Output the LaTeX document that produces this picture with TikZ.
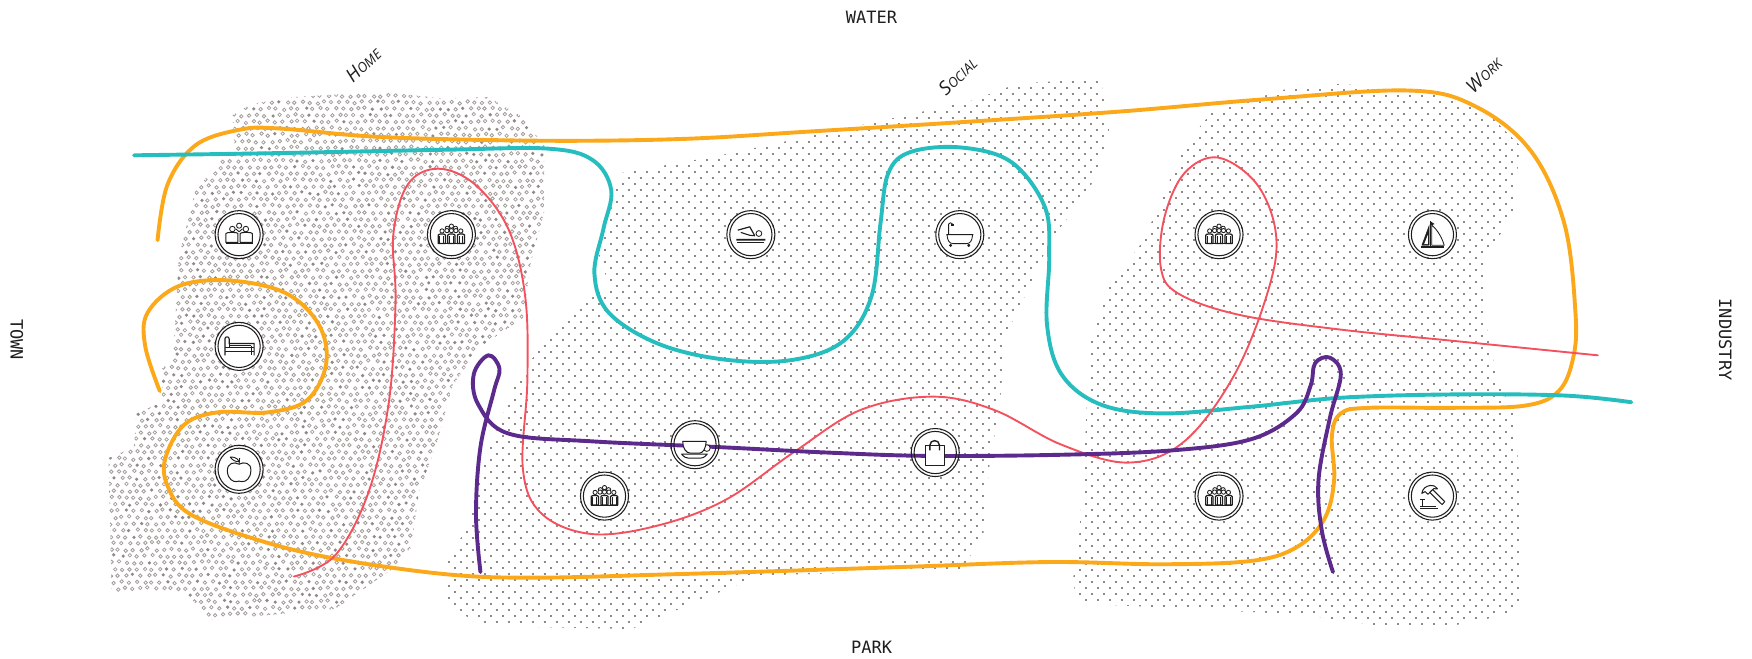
\documentclass[tikz,border=0pt]{standalone}
\usepackage{fontspec}
\setmainfont{DejaVu Sans Mono}
\newfontfamily\zonefont{Open Sans}[ItalicFont=* Italic]
\definecolor{cOrange}{HTML}{FBA91A}
\definecolor{cTeal}{HTML}{25BDBD}
\definecolor{cRed}{HTML}{F4515F}
\definecolor{cPurple}{HTML}{5B2A8C}
\definecolor{cDot}{HTML}{8F8A87}
\definecolor{cRing}{HTML}{A39E9A}
\definecolor{cInk}{HTML}{1E1E1E}
\tikzset{
  route/.style={line width=#1,line cap=round,line join=round},
  disk/.style={circle,fill=white,inner sep=0pt,minimum size=46pt},
  ringline/.style={draw=cInk,line width=1.05pt},
  ic/.style={draw=cInk,line width=0.85pt,line join=round,fill=white},
  icb/.style={draw=cInk,fill=cInk,line width=0.3pt},
  axislabel/.style={font=\fontsize{17}{17}\selectfont,text=cInk},
  zonelabel/.style={font=\zonefont\itshape,text=cInk,rotate=44},
  pics/crowd/.style={code={
    \foreach \a/\b in {0/-7.6,-3.7/-5.7,3.7/-5.7}{\draw[ic] (\a,\b) circle (1.9);}
    \foreach \a/\b in {-8.4/-3.3,8.4/-3.3,-4/-3.6,4/-3.6,0/-3.6}{\draw[ic] (\a,\b) circle (1.9);}
    \foreach \a in {-8.6,8.6,0}{
      \draw[ic,line width=1.25pt] (\a-3.2,8) -- (\a-3.2,0.4) .. controls (\a-3.2,-1) and (\a+3.2,-1) .. (\a+3.2,0.4) -- (\a+3.2,8) -- cycle;
      \draw[cInk,line width=1pt] (\a-1.7,1) -- (\a-1.7,8) (\a+1.7,1) -- (\a+1.7,8);}
    \draw[cInk,line width=1pt] (-12,8.2) -- (12,8.2);
  }},
  pics/family/.style={code={
    \draw[ic] (0,-8) circle (2.3);
    \draw[ic] (-6,-5) circle (2.5) (6,-5) circle (2.5);
    \draw[ic] (-3,-5.2) -- (0,-2.6) -- (3,-5.2);
    \foreach \a in {-6.4,6.4}{
      \draw[ic,line width=1pt] (\a-5.4,7) -- (\a-5.4,-1) .. controls (\a-5.4,-2.4) and (\a+5.4,-2.4) .. (\a+5.4,-1) -- (\a+5.4,7) -- cycle;}
    \draw[cInk,line width=1pt] (-12,7.6) -- (12,7.6);
  }},
  pics/bed/.style={code={
    \draw[cInk,line width=1.1pt] (-12.6,8) -- (-12.6,-7) .. controls (-12.6,-9) and (-9,-9) .. (-9,-7) -- (-9,-2.6) -- (13.4,-2.6) -- (13.4,8);
    \draw[cInk,line width=1.1pt] (-9,-7) -- (-9,1) (-12.6,1.2) -- (13.4,1.2) (-12.6,4.2) -- (13.4,4.2) (10.8,-0.6) -- (10.8,8);
    \draw[cInk,line width=0.8pt] (-8.4,-0.6) -- (11,-0.6);
  }},
  pics/apple/.style={code={
    \draw[ic,line width=1pt] (0,-4.5) .. controls (-4,-7) and (-11,-6) .. (-10.5,2) .. controls (-10,9) and (-5,11.5) .. (-2.5,11) .. controls (-1,10.5) and (1,10.5) .. (2.5,11) .. controls (6,11.5) and (10.5,8) .. (10.5,1) .. controls (11,-6) and (4,-7) .. (0,-4.5) -- cycle;
    \draw[cInk,line width=1pt] (0,-4.5) -- (0.4,-10);
    \draw[ic,line width=0.9pt] (0,-7) .. controls (-2,-11) and (-6,-11) .. (-8,-11) .. controls (-6,-8) and (-3,-6.5) .. (0,-7) -- cycle;
  }},
  pics/swim/.style={code={
    \draw[ic] (7.2,-1) circle (2.6);
    \draw[cInk,line width=1.2pt,line join=round] (-11.7,-4) -- (-1,-7) -- (3.5,1);
    \draw[cInk,line width=1.1pt] (-9,-2) -- (-1,0.6) -- (3.5,1);
    \draw[cInk,line width=1.6pt,fill=none] (-13,4.6) \foreach \i in {0,...,6}{ .. controls (-12+\i*3.7,3) and (-11+\i*3.7,6) .. (-9.3+\i*3.7,4.6)};
    \draw[cInk,line width=1.4pt] (-12.5,7) -- (12,7);
  }},
  pics/bath/.style={code={
    \draw[ic] (-10,0) -- (-10,-9.5) .. controls (-10,-11) and (-6.5,-11) .. (-6.5,-9.5);
    \fill[cInk] (-7.7,-9.5) rectangle (-5.2,-7.8);
    \draw[ic] (-12,0) -- (12.2,0) (-11.5,0) .. controls (-11,6) and (-9,8) .. (-6,8) -- (6,8) .. controls (9,8) and (11,6) .. (11.5,0);
    \draw[ic,fill=cInk] (-8.2,9.6) circle (1) (8,9.6) circle (1);
  }},
  pics/boat/.style={code={
    \draw[cInk,line width=1.1pt] (-2,-12) -- (-2,10);
    \fill[cInk] (-2,-12) -- (2,-9.5) -- (-2,-8) -- cycle;
    \draw[ic] (-0.6,-8.5) .. controls (5,-4) and (9,4) .. (10.5,9.5) -- (-0.6,9.5) -- cycle;
    \filldraw[cInk] (-3,-8) -- (-9.5,9.5) -- (-3,9.5) -- cycle;
    \fill[white] (-4,0) -- (-7.4,8.5) -- (-4,8.5) -- cycle;
    \draw[cInk,line width=1.7pt] (-10.5,11.2) -- (10.5,11.2);
  }},
  pics/hammer/.style={code={
    \draw[ic,line width=1pt] (-2.5,-3.4) -- (0,-6) -- (11,5) -- (8.6,7.6) -- cycle;
    \draw[ic,line width=1pt] (-9.5,-2.4) .. controls (-9,-6.5) and (-6,-9) .. (-2,-9.5) .. controls (1,-9.8) and (3.5,-8.5) .. (4.5,-6.5) .. controls (2,-7.4) and (0,-6.5) .. (-1,-4.8) -- (-4,-1.6) -- (-6.6,-4) .. controls (-7.8,-3.4) and (-8.8,-3) .. (-9.5,-2.4) -- cycle;
    \draw[cInk,line width=1pt] (-9,3) -- (-9,9) (-11,3) -- (-7,3);
    \draw[cInk,line width=1pt] (-11,9) -- (3,9) (-11,11) -- (5,11);
  }},
  pics/cup/.style={code={
    \draw[ic] (10.6,3) circle (3);
    \draw[ic,line width=1pt] (-11,-3) -- (10,-3) .. controls (10,3) and (7,7.6) .. (4,7.6) -- (-4,7.6) .. controls (-8,7.6) and (-11,3) .. (-11,-3) -- cycle;
    \draw[ic,line width=1pt] (-12,8.4) -- (11,8.4) .. controls (8,12) and (6,12) .. (5,12) -- (-6,12) .. controls (-8,12) and (-10,11) .. (-12,8.4) -- cycle;
  }},
  pics/bag/.style={code={
    \draw[ic,line width=1.1pt] (-9,-6) rectangle (8,12);
    \draw[cInk,line width=1.4pt] (-4.8,-2) -- (-4.8,-6.5) .. controls (-4.8,-12) and (3.8,-12) .. (3.8,-6.5) -- (3.8,-2);
  }},
}
\newcommand{\homezone}{(208,103) -- (225,93) -- (262,87) -- (340,82) -- (395,88) -- (437,87) -- (465,103) -- (487,130) -- (487,190) -- (475,235) -- (468,285) -- (430,310) -- (405,345) -- (390,400) -- (375,440) -- (368,490) -- (350,510) -- (300,545) -- (190,555) -- (165,530) -- (100,530) -- (97,410) -- (120,400) -- (122,370) -- (145,360) -- (145,330) -- (155,320) -- (160,230) -- (175,170) -- (210,130) -- cycle}
\newcommand{\socialzone}{(400,500) -- (420,470) -- (430,420) -- (465,335) -- (505,285) -- (545,255) -- (535,225) -- (555,155) -- (640,140) -- (780,110) -- (870,90) -- (910,75) -- (985,70) -- (993,120) -- (975,170) -- (940,215) -- (915,270) -- (900,300) -- (895,360) -- (885,420) -- (880,480) -- (860,510) -- (680,515) -- (620,540) -- (565,563) -- (430,560) -- (400,540) -- cycle}
\newcommand{\workzone}{(960,520) -- (965,490) -- (970,420) -- (975,310) -- (990,260) -- (1020,220) -- (1035,190) -- (1060,130) -- (1085,100) -- (1150,80) -- (1200,75) -- (1280,82) -- (1330,100) -- (1360,130) -- (1355,190) -- (1330,230) -- (1330,290) -- (1340,340) -- (1355,370) -- (1360,430) -- (1362,540) -- (1350,550) -- (1300,560) -- (1235,560) -- (1165,550) -- (965,540) -- cycle}
\begin{document}
\begin{tikzpicture}[x=1.11735pt,y=-1.11735pt]
\useasboundingbox (0,0) rectangle (1568,589);
\pgfmathsetseed{4242}
% stippled zones
\begin{scope}
  \clip \homezone;
  \foreach \r in {0,...,83}{
    \foreach \c in {0,...,58}{
      \pgfmathsetmacro{\px}{96+\c*6.7+mod(\r,2)*3.35+rand*1.1}
      \pgfmathsetmacro{\py}{80+\r*5.8+rand*1.1}
      \pgfmathsetmacro{\pk}{rnd}
      \ifdim\pk pt<0.14pt
        \fill[cDot] (\px,\py) circle (1.6);
      \else
        \draw[cRing,line width=0.8pt] (\px,\py) circle (1.55);
      \fi
    }
  }
\end{scope}
\begin{scope}
  \clip \socialzone;
  \foreach \r in {0,...,92}{
    \pgfmathsetmacro{\py}{68.2+\r*5.37}
    \pgfmathsetmacro{\px}{395.2+mod(\r,2)*5.37}
    \draw[cDot,line width=2.1pt,dash pattern=on 2.1pt off 9.9pt] (\px,\py) -- (1000,\py);
  }
\end{scope}
\begin{scope}
  \clip \workzone;
  \foreach \r in {0,...,92}{
    \pgfmathsetmacro{\py}{70+\r*5.37}
    \pgfmathsetmacro{\px}{955+mod(\r,2)*5.37}
    \draw[cDot,line width=2.1pt,dash pattern=on 2.1pt off 9.9pt] (\px,\py) -- (1370,\py);
  }
\end{scope}
% white discs behind the icons
\node[disk] (famA) at (214,210) {};
\node[disk] (crowdA) at (404,210) {};
\node[disk] (swimA) at (672,210) {};
\node[disk] (bathA) at (859,210) {};
\node[disk] (crowdB) at (1091,210) {};
\node[disk] (boatA) at (1282,210) {};
\node[disk] (bedA) at (214,310) {};
\node[disk] (appleA) at (214,420) {};
\node[disk] (cupA) at (622,398) {};
\node[disk] (crowdC) at (541,444) {};
\node[disk] (bagA) at (837,405) {};
\node[disk] (crowdD) at (1091,444) {};
\node[disk] (hammerA) at (1282,444) {};
% routes
\draw[cOrange,route=3.9pt] plot[smooth,tension=0.6] coordinates {(141,215) (150,165) (175,130) (215,116) (250,115) (330,122) (420,125) (520,126) (620,124) (720,118) (850,110) (1000,100) (1130,89) (1260,81) (1320,95) (1370,135) (1400,200) (1410,280) (1408,320) (1395,350) (1365,363) (1300,365) (1225,365) (1200,370) (1192,390) (1194,430) (1185,465) (1160,490) (1120,502) (1040,505) (940,503) (820,507) (700,511) (600,514) (480,517) (400,514) (300,500) (230,483) (170,460) (150,435) (148,410) (165,380) (195,369) (240,369) (275,358) (292,325) (285,290) (255,262) (205,251) (160,256) (132,280) (130,310) (143,350)};
\draw[cTeal,route=3.9pt] plot[smooth,tension=0.6] coordinates {(120,139) (250,137) (400,134) (490,133) (530,143) (547,170) (540,205) (532,245) (545,280) (590,308) (650,322) (710,322) (755,305) (780,265) (788,200) (795,155) (815,136) (860,132) (905,145) (935,185) (939,230) (937,290) (950,335) (985,362) (1040,370) (1120,364) (1200,356) (1300,353) (1400,354) (1460,360)};
\draw[cRed,route=1.9pt] plot[smooth,tension=0.6] coordinates {(263,516) (300,497) (330,440) (348,360) (354,270) (352,210) (365,165) (392,151) (425,165) (455,205) (470,265) (472,340) (468,420) (485,460) (530,478) (590,470) (650,447) (710,405) (770,367) (835,355) (890,367) (950,398) (1010,414) (1060,395) (1105,335) (1135,260) (1142,210) (1125,165) (1090,141) (1060,155) (1042,195) (1039,240) (1055,263) (1110,282) (1200,295) (1300,305) (1430,318)};
\draw[cPurple,route=3.9pt] plot[smooth,tension=0.6] coordinates {(430,512) (426,460) (430,400) (442,350) (447,330) (437,318) (424,335) (428,362) (455,388) (530,395) (640,400) (740,405) (830,408) (950,407) (1050,403) (1120,393) (1160,370) (1173,345) (1177,325) (1190,320) (1200,335) (1190,375) (1180,430) (1183,475) (1193,512)};
% icon rings and glyphs
\foreach \n in {famA,crowdA,swimA,bathA,crowdB,boatA,bedA,appleA,cupA,crowdC,bagA,crowdD,hammerA}{
  \draw[ringline] (\n) circle (21.5);
  \draw[ringline] (\n) circle (18.9);
}
\pic at (famA) {family};
\pic at (crowdA) {crowd};
\pic at (crowdB) {crowd};
\pic at (crowdC) {crowd};
\pic at (crowdD) {crowd};
\pic at (swimA) {swim};
\pic at (bathA) {bath};
\pic at (boatA) {boat};
\pic at (bedA) {bed};
\pic at (appleA) {apple};
\pic at (cupA) {cup};
\pic at (bagA) {bag};
\pic at (hammerA) {hammer};
% labels
\node[axislabel] (lWater) at (780,15.5) {WATER};
\node[axislabel] (lPark) at (780,579.5) {PARK};
\node[axislabel,rotate=-90] (lTown) at (15,304) {TOWN};
\node[axislabel,rotate=-90] (lIndustry) at (1544,304) {INDUSTRY};
\node[zonelabel] (lHome) at (325,58) {\fontsize{19}{19}\selectfont H\fontsize{13.5}{13.5}\selectfont OME};
\node[zonelabel] (lSocial) at (857,68) {\fontsize{19}{19}\selectfont S\fontsize{13.5}{13.5}\selectfont OCIAL};
\node[zonelabel] (lWork) at (1328,67) {\fontsize{19}{19}\selectfont W\fontsize{13.5}{13.5}\selectfont ORK};
\end{tikzpicture}
\end{document}
